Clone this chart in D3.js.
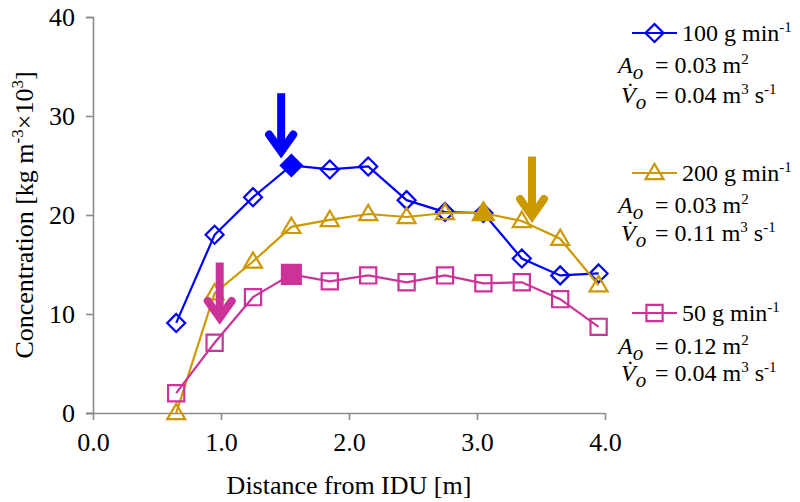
<!DOCTYPE html>
<html>
<head>
<meta charset="utf-8">
<script src="https://cdn.jsdelivr.net/npm/d3@7"></script>
<style>
  html, body { margin: 0; padding: 0; background: #fff; }
  svg text { font-family: "Liberation Serif", "Times New Roman", Times, serif; }
</style>
</head>
<body>
<svg id="chart" width="800" height="502"></svg>
<script>
// ---- data ----
const distances = [0.65, 0.95, 1.25, 1.55, 1.85, 2.15, 2.45, 2.75, 3.05, 3.35, 3.65, 3.95];
const conc100 = [9.1, 18.0, 21.8, 25.0, 24.6, 24.9, 21.5, 20.3, 20.2, 15.6, 13.9, 14.1];
const conc200 = [0.0, 12.1, 15.3, 18.8, 19.5, 20.1, 19.8, 20.2, 20.2, 19.4, 17.6, 12.9];
const conc50  = [2.0, 7.1, 11.7, 14.0, 13.3, 13.9, 13.2, 13.9, 13.1, 13.2, 11.5, 8.7];
const filledIndex100 = 3;
const filledIndex200 = 8;
const filledIndex50 = 3;
const xTicks = [0, 1, 2, 3, 4];
const yTicks = [0, 10, 20, 30, 40];
// arrows (x, top value, tip value) in data units
const arrowX = [1.47, 3.43, 0.99];
const arrowTop = [32.3, 25.9, 15.2];
const arrowTip = [25.9, 19.4, 9.1];
const seriesNames = ["100", "200", "50"];
const areaVals = ["0.03", "0.03", "0.12"];
const flowVals = ["0.04", "0.11", "0.04"];

const colors = { "100": "#0000ff", "200": "#cc9900", "50": "#cc3399" };
const FONT = "'Liberation Serif', 'Times New Roman', Times, serif";
const svg = d3.select("#chart");

const x = d3.scaleLinear().domain([0, 4]).range([93, 605]);
const y = d3.scaleLinear().domain([0, 40]).range([413, 17]);
const axisColor = "#8c8c8c";

// axes
const xAxis = svg.append("g").attr("transform", `translate(0,${y(0)})`)
  .call(d3.axisBottom(x).tickValues(xTicks).tickFormat(d3.format(".1f")).tickSizeOuter(0).tickSize(7).tickPadding(13));
const yAxis = svg.append("g").attr("transform", `translate(${x(0)},0)`)
  .call(d3.axisLeft(y).tickValues(yTicks).tickFormat(d3.format("d")).tickSizeOuter(0).tickSize(7).tickPadding(11));
[xAxis, yAxis].forEach(g => {
  g.attr("font-family", FONT).attr("font-size", 26);
  g.select(".domain").attr("stroke", axisColor).attr("stroke-width", 1.6);
  g.selectAll(".tick line").attr("stroke", axisColor).attr("stroke-width", 1.6);
  g.selectAll(".tick text").attr("fill", "#000");
});
yAxis.selectAll(".tick text").attr("dy", "0.33em");
xAxis.selectAll(".tick text").attr("dy", "0.71em");
// extend x-axis domain slightly left to meet y tick
xAxis.select(".domain").attr("d", `M${x(0) - 7},0.5H${x(4)}`);

// axis titles
svg.append("text").attr("x", (x(0) + x(4)) / 2).attr("y", 494)
  .attr("text-anchor", "middle").style("font-size", "26px").text("Distance from IDU [m]");

const yt = svg.append("text").attr("transform", `translate(33,${(y(0) + y(40)) / 2}) rotate(-90)`)
  .attr("text-anchor", "middle").style("font-size", "26px");
yt.append("tspan").text("Concentration [kg m");
yt.append("tspan").attr("dy", -10).style("font-size", "17px").text("-3");
yt.append("tspan").attr("dy", 10).text("×10");
yt.append("tspan").attr("dy", -10).style("font-size", "17px").text("3");
yt.append("tspan").attr("dy", 10).text("]");

// markers
function markerPath(type, size) {
  const s = size / 2;
  if (type === "diamond") return `M0,${-s}L${s},0L0,${s}L${-s},0Z`;
  if (type === "square") return `M${-s * 0.9},${-s * 0.9}H${s * 0.9}V${s * 0.9}H${-s * 0.9}Z`;
  const h = size * 0.85;
  return `M0,${-h * 0.6}L${s},${h * 0.4}L${-s},${h * 0.4}Z`;
}

const series = [
  { key: "100", vals: conc100, filled: filledIndex100, shape: "diamond" },
  { key: "200", vals: conc200, filled: filledIndex200, shape: "triangle" },
  { key: "50", vals: conc50, filled: filledIndex50, shape: "square" }
];

const line = d3.line().x(d => x(d[0])).y(d => y(d[1]));

series.forEach(s => {
  const pts = distances.map((d, i) => [d, s.vals[i]]);
  const c = colors[s.key];
  svg.append("path").datum(pts).attr("d", line).attr("fill", "none")
    .attr("stroke", c).attr("stroke-width", 2.2);
  svg.append("g").selectAll("path").data(pts).join("path")
    .attr("transform", d => `translate(${x(d[0])},${y(d[1])})`)
    .attr("d", (d, i) => markerPath(s.shape, i === s.filled ? 21 : 18))
    .attr("fill", (d, i) => i === s.filled ? c : "none")
    .attr("stroke", c).attr("stroke-width", 2.2);
});

// arrows
const arrowColors = [colors["100"], colors["200"], colors["50"]];
arrowX.forEach((ax, i) => {
  const px = x(ax), top = y(arrowTop[i]), tip = y(arrowTip[i]);
  const c = arrowColors[i];
  svg.append("path").attr("d", `M${px},${top}V${tip - 6}`)
    .attr("stroke", c).attr("stroke-width", 8).attr("fill", "none");
  svg.append("path").attr("d", `M${px - 12},${tip - 22}L${px},${tip - 5}L${px + 12},${tip - 22}`)
    .attr("stroke", c).attr("stroke-width", 8).attr("fill", "none")
    .attr("stroke-linecap", "round").attr("stroke-linejoin", "miter");
});

// legend
const legendLineY = [33, 173, 313];
const legendBase = [41, 181, 321];
const areaBase = [73, 213, 354];
const flowBase = [103, 241, 381];
series.forEach((s, i) => {
  const c = colors[s.key];
  const ly = legendLineY[i];
  svg.append("line").attr("x1", 632).attr("x2", 677).attr("y1", ly).attr("y2", ly)
    .attr("stroke", c).attr("stroke-width", 2.2);
  svg.append("path").attr("transform", `translate(654.5,${ly})`)
    .attr("d", markerPath(s.shape, 18)).attr("fill", "none").attr("stroke", c).attr("stroke-width", 2.2);

  const t = svg.append("text").attr("x", 682).attr("y", legendBase[i]).style("font-size", "24px");
  t.append("tspan").text(`${seriesNames[i]} g min`);
  t.append("tspan").attr("dy", -9).style("font-size", "15px").text("-1");

  const a = svg.append("text").attr("x", 618).attr("y", areaBase[i]).style("font-size", "24px");
  a.append("tspan").style("font-style", "italic").text("A");
  a.append("tspan").attr("dy", 6).style("font-style", "italic").style("font-size", "21px").text("o");
  a.append("tspan").attr("x", 655).attr("dy", -6).text("= " + areaVals[i] + " m");
  a.append("tspan").attr("dy", -9).style("font-size", "15px").text("2");

  const v = svg.append("text").attr("x", 621).attr("y", flowBase[i]).style("font-size", "24px");
  v.append("tspan").style("font-style", "italic").text("V\u0307");
  v.append("tspan").attr("dy", 6).style("font-style", "italic").style("font-size", "21px").text("o");
  v.append("tspan").attr("x", 655).attr("dy", -6).text("= " + flowVals[i] + " m");
  v.append("tspan").attr("dy", -9).style("font-size", "15px").text("3");
  v.append("tspan").attr("dy", 9).text(" s");
  v.append("tspan").attr("dy", -9).style("font-size", "15px").text("-1");
});
</script>
</body>
</html>
